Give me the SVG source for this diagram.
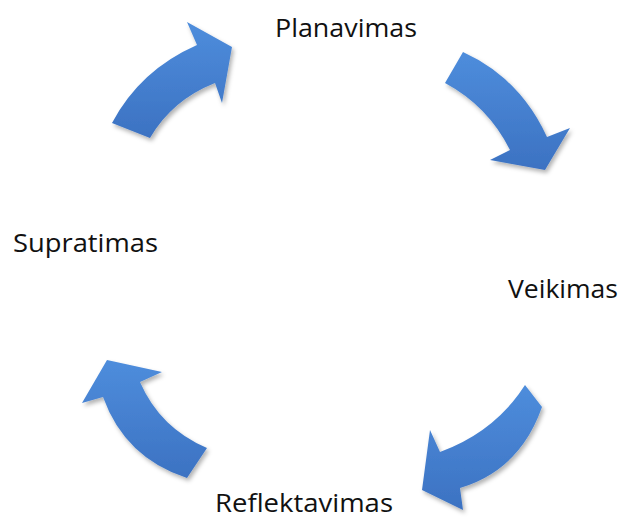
<svg xmlns="http://www.w3.org/2000/svg" width="625" height="520" viewBox="0 0 625 520">
  <defs>
    <linearGradient id="blue" x1="0" y1="0" x2="0" y2="1">
      <stop offset="0" stop-color="#4e8ddc"/>
      <stop offset="1" stop-color="#3c72c2"/>
    </linearGradient>
    <filter id="sh" x="-20%" y="-20%" width="140%" height="140%">
      <feDropShadow dx="2" dy="3" stdDeviation="2.2" flood-color="#000" flood-opacity="0.3"/>
    </filter>
    <style>
      .arrow { fill: url(#blue); filter: url(#sh); }
      .lbl { font-family: "Open Sans", "Liberation Sans", sans-serif; font-size: 26px; fill: #111; }
    </style>
  </defs>
  <rect width="625" height="520" fill="#fff"/>
  <g id="connectors">
    <path class="arrow" d="M112,123 L150,138 Q172,100 215,83 L222,103 L232,47 L187,22 L197,45 Q140,70 112,123 Z"/>
    <path class="arrow" d="M463,52 Q520,78 547,137 L570,128 L545,170 L490,160 L510,150 Q488,106 445,83 Z"/>
    <path class="arrow" d="M525,385 L542,407 Q520,470 460,488 L463,510 L422,490 L430,430 L440,452 Q495,432 525,385 Z"/>
    <path class="arrow" d="M207,448 L187,478 Q125,458 103,397 L82,403 L107,360 L162,372 L140,382 Q160,428 207,448 Z"/>
  </g>
  <g id="planavimas"><text class="lbl" x="275" y="37" textLength="142" lengthAdjust="spacingAndGlyphs">Planavimas</text></g>
  <g id="veikimas"><text class="lbl" x="508" y="298" textLength="110" lengthAdjust="spacingAndGlyphs">Veikimas</text></g>
  <g id="reflektavimas"><text class="lbl" x="215" y="512" style="font-size:25px" textLength="178" lengthAdjust="spacingAndGlyphs">Reflektavimas</text></g>
  <g id="supratimas"><text class="lbl" x="13" y="252" textLength="145" lengthAdjust="spacingAndGlyphs">Supratimas</text></g>
</svg>
